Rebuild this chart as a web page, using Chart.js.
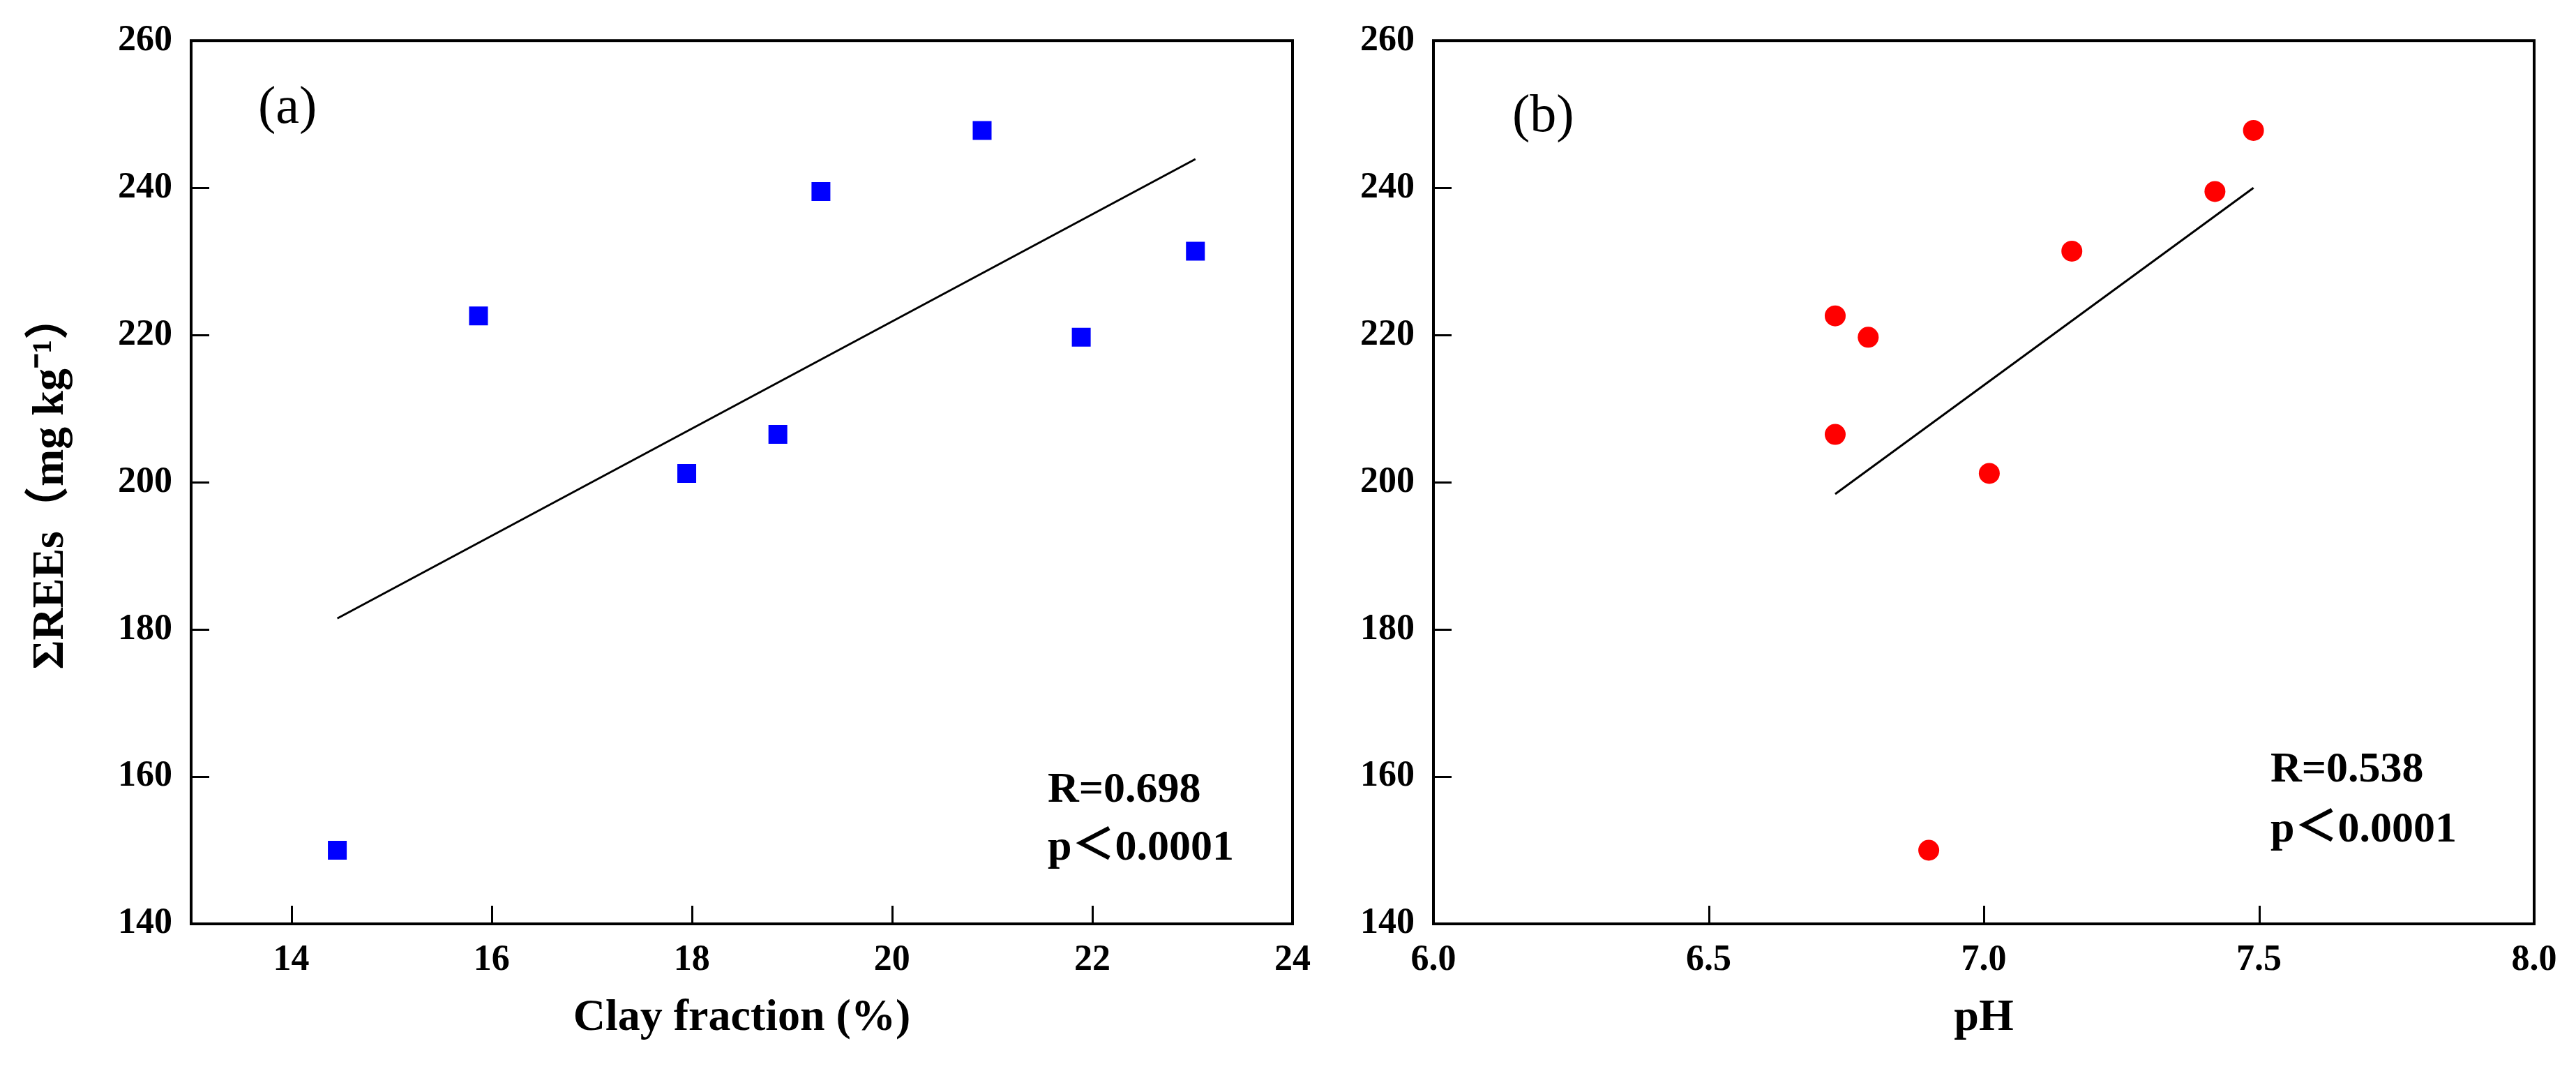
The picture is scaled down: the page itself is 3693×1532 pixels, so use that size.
<!DOCTYPE html>
<html>
<head>
<meta charset="utf-8">
<title>REEs vs clay fraction and pH</title>
<script src="https://cdn.jsdelivr.net/npm/chart.js@4.4.1/dist/chart.umd.min.js"></script>
<style>
  html, body { margin: 0; padding: 0; background: #fff; }
  #wrap { position: relative; width: 3693px; height: 1532px; }
  canvas { position: absolute; top: 0; }
  #chartA { left: 0; }
  #chartB { left: 1900px; }
</style>
</head>
<body>
<div id="wrap">
  <canvas id="chartA" width="1900" height="1532"></canvas>
  <canvas id="chartB" width="1793" height="1532"></canvas>
</div>
<script>
// one entry per soil sample
var reeTotals    = [150.0, 201.2, 206.5, 219.7, 222.6, 231.4, 239.5, 247.8];
var clayFraction = [14.46, 17.95, 18.86, 21.89, 15.87, 23.03, 19.29, 20.90];
var soilPH       = [6.90, 7.01, 6.73, 6.79, 6.73, 7.16, 7.42, 7.49];

// fitted lines, end points as drawn in the figure
var clayFitX = [14.46, 23.03];
var clayFitY = [181.5, 243.9];
var phFitX = [6.73, 7.49];
var phFitY = [198.4, 240.0];

// tick labels
var yTicks = [140, 160, 180, 200, 220, 240, 260];
var clayTicks = [14, 16, 18, 20, 22, 24];
var phTicks = [6.0, 6.5, 7.0, 7.5, 8.0];

Chart.defaults.font.family = '"Liberation Serif", "Noto Sans CJK SC", serif';
Chart.defaults.color = '#000';

function pairs(xs, ys) {
  return xs.map(function (x, i) { return {x: x, y: ys[i]}; });
}

// box round the plot, inward tick marks, panel letter and the R / p note
var frame = {
  id: 'frame',
  afterDraw: function (chart, args, opts) {
    var a = chart.chartArea, ctx = chart.ctx;
    var xs = chart.scales.x, ys = chart.scales.y;
    ctx.save();
    ctx.strokeStyle = '#000';
    ctx.lineWidth = 3;
    ctx.beginPath();
    xs.ticks.forEach(function (t) {
      var px = Math.round(xs.getPixelForValue(t.value)) + 0.5;
      ctx.moveTo(px, a.bottom);
      ctx.lineTo(px, a.bottom - 26);
    });
    ys.ticks.forEach(function (t) {
      var py = Math.round(ys.getPixelForValue(t.value)) + 0.5;
      ctx.moveTo(a.left, py);
      ctx.lineTo(a.left + 26, py);
    });
    ctx.stroke();
    ctx.lineWidth = 4;
    ctx.strokeRect(a.left, a.top, a.right - a.left, a.bottom - a.top);
    ctx.fillStyle = '#000';
    ctx.textAlign = 'left';
    ctx.textBaseline = 'alphabetic';
    ctx.font = '76px "Liberation Serif"';
    ctx.fillText(opts.tag, a.left + opts.tagX, opts.tagY);
    ctx.font = 'bold 62px "Liberation Serif", "Noto Sans CJK SC"';
    opts.stats.forEach(function (s, i) {
      ctx.fillText(s, a.left + opts.statsX, opts.statsY[i]);
    });
    ctx.restore();
  }
};

var noGrid = {display: false, drawTicks: false};

function yScale(title, width) {
  return {
    type: 'linear',
    min: 140,
    max: 260,
    afterBuildTicks: function (s) { s.ticks = yTicks.map(function (v) { return {value: v}; }); },
    afterFit: function (s) { s.width = width; },
    border: {display: false},
    grid: noGrid,
    ticks: {color: '#000', font: {size: 52, weight: 'bold'}, padding: 27},
    title: title ? {
      display: true,
      text: title,
      color: '#000',
      font: {size: 64, weight: 'bold'},
      padding: {top: 35, bottom: 0}
    } : {display: false}
  };
}

function xScale(min, max, list, fmt, title) {
  return {
    type: 'linear',
    position: 'bottom',
    min: min,
    max: max,
    afterBuildTicks: function (s) { s.ticks = list.map(function (v) { return {value: v}; }); },
    afterFit: function (s) { s.height = 208; },
    border: {display: false},
    grid: noGrid,
    ticks: {
      color: '#000',
      font: {size: 52, weight: 'bold'},
      padding: 21,
      maxRotation: 0,
      autoSkip: false,
      callback: fmt
    },
    title: {
      display: true,
      text: title,
      color: '#000',
      font: {size: 64, weight: 'bold'},
      padding: {top: 0, bottom: 34}
    }
  };
}

new Chart(document.getElementById('chartA').getContext('2d'), {
  type: 'scatter',
  data: {
    datasets: [{
      label: 'ΣREEs',
      data: pairs(clayFraction, reeTotals),
      pointStyle: 'rect',
      pointRadius: 19.1,
      backgroundColor: '#0000ff',
      borderWidth: 0
    }, {
      label: 'fit',
      data: pairs(clayFitX, clayFitY),
      showLine: true,
      borderColor: '#000',
      borderWidth: 3,
      pointRadius: 0,
      fill: false
    }]
  },
  options: {
    responsive: false,
    animation: false,
    devicePixelRatio: 1,
    events: [],
    layout: {padding: {left: 0, top: 53, right: 47, bottom: 0}},
    scales: {
      x: xScale(13, 24, clayTicks, function (v) { return String(v); }, 'Clay fraction (%)'),
      y: yScale('ΣREEs（mg kg⁻¹）', 274)
    },
    plugins: {
      legend: {display: false},
      tooltip: {enabled: false},
      frame: {tag: '(a)', tagX: 96, tagY: 176, stats: ['R=0.698', 'p＜0.0001'], statsX: 1228, statsY: [1149, 1232]}
    }
  },
  plugins: [frame]
});

new Chart(document.getElementById('chartB').getContext('2d'), {
  type: 'scatter',
  data: {
    datasets: [{
      label: 'ΣREEs',
      data: pairs(soilPH, reeTotals),
      pointStyle: 'circle',
      pointRadius: 15,
      backgroundColor: '#ff0000',
      borderWidth: 0
    }, {
      label: 'fit',
      data: pairs(phFitX, phFitY),
      showLine: true,
      borderColor: '#000',
      borderWidth: 3,
      pointRadius: 0,
      fill: false
    }]
  },
  options: {
    responsive: false,
    animation: false,
    devicePixelRatio: 1,
    events: [],
    layout: {padding: {left: 0, top: 53, right: 60, bottom: 0}},
    scales: {
      x: xScale(6, 8, phTicks, function (v) { return Number(v).toFixed(1); }, 'pH'),
      y: yScale(null, 155)
    },
    plugins: {
      legend: {display: false},
      tooltip: {enabled: false},
      frame: {tag: '(b)', tagX: 113, tagY: 188, stats: ['R=0.538', 'p＜0.0001'], statsX: 1200, statsY: [1120, 1206]}
    }
  },
  plugins: [frame]
});
</script>
</body>
</html>
